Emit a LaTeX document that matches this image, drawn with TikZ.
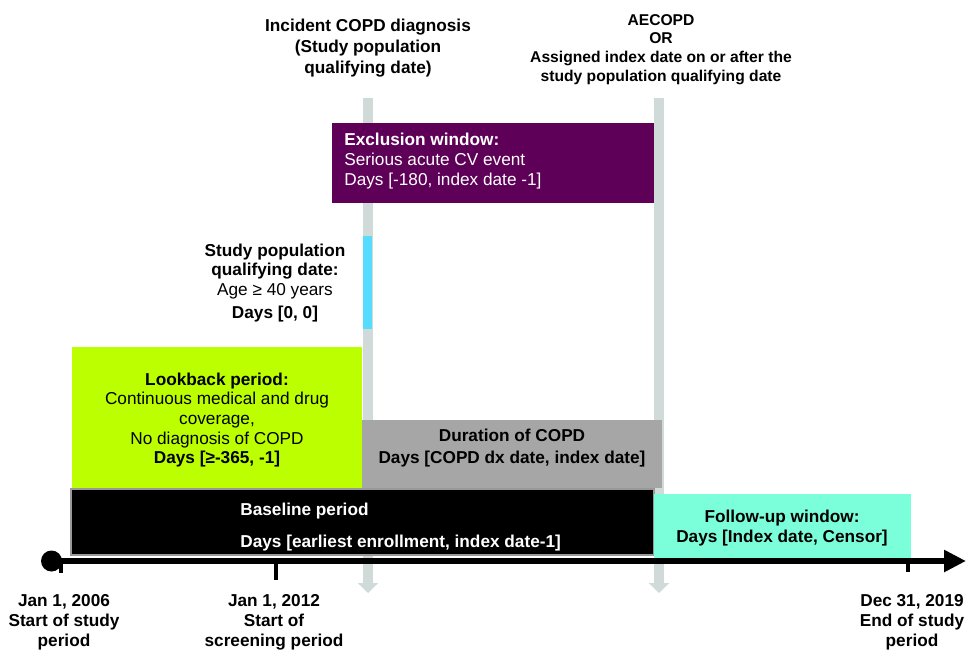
\documentclass[tikz,border=0pt]{standalone}
\usepackage{fontspec}
\setmainfont{Liberation Sans}
\usetikzlibrary{arrows.meta}
\usetikzlibrary{positioning}

\definecolor{exclpurple}{HTML}{5E0057}
\definecolor{bargrey}{HTML}{D0DAD8}
\definecolor{qualblue}{HTML}{55DCFF}
\definecolor{lookgreen}{HTML}{BBFF00}
\definecolor{durgrey}{HTML}{A6A6A6}
\definecolor{followaqua}{HTML}{7BFFDA}

\tikzset{
  lbl/.style={font=\fontsize{9.8}{11.2}\selectfont, align=center, inner sep=0pt},
  toplbl/.style={lbl, font=\fontsize{9.8}{12}\selectfont\bfseries},
  datelbl/.style={lbl, font=\fontsize{9.8}{11.4}\selectfont\bfseries},
  datebar/.style={bargrey, line width=0.2cm, -{Triangle[length=0.2cm, width=0.4cm]}},
  timeline/.style={black, line width=0.12cm, -{Triangle[length=0.44cm, width=0.42cm]}},
  tickmark/.style={black, line width=0.08cm}
}

\begin{document}
\begin{tikzpicture}[x=0.02cm, y=-0.02cm]
\useasboundingbox (0,0) rectangle (966,650);

% grey bars at the two reference dates
\coordinate (DxTop) at (368,98);
\coordinate (DxEnd) at (368,593);
\coordinate (IdxTop) at (659,98);
\coordinate (IdxEnd) at (659,593);
\draw[datebar] (DxTop) -- (DxEnd);
\draw[datebar] (IdxTop) -- (IdxEnd);

\node[toplbl] (DxLbl) at (368,48) {Incident COPD diagnosis\\(Study population\\qualifying date)};
\node[toplbl, font=\fontsize{8.9}{10.6}\selectfont\bfseries] (IdxLbl) at (661,49.5)
  {AECOPD\\OR\\Assigned index date on or after the\\study population qualifying date};

% windows
\fill[exclpurple] (332,123) rectangle (654,203);
\node[lbl, anchor=west, align=left, text=white] (ExclText) at (344,161)
  {\textbf{Exclusion window:}\\Serious acute CV event\\Days [-180, index date -1]};

\fill[qualblue] (363,236) rectangle (372,329);
\node[lbl] (QualText) at (275,283)
  {\textbf{Study population}\\\textbf{qualifying date:}\\Age ≥ 40 years\\[2pt]\textbf{Days [0, 0]}};

\fill[lookgreen] (72,347) rectangle (362,488);
\node[lbl] (LookText) at (217,420)
  {\textbf{Lookback period:}\\Continuous medical and drug\\coverage,\\No diagnosis of COPD\\\textbf{Days [≥-365, -1]}};

\fill[durgrey] (362,420) rectangle (662,488);
\node[lbl, font=\fontsize{9.8}{12.4}\selectfont\bfseries] (DurText) at (512,448)
  {Duration of COPD\\Days [COPD dx date, index date]};

\filldraw[fill=black, draw=gray!80, line width=0.03cm] (71,489) rectangle (654,555);
\node[lbl, anchor=west, align=left, text=white, font=\fontsize{9.8}{11.2}\selectfont\bfseries] (BaseText) at (240,527)
  {Baseline period\\[6.6pt]Days [earliest enrollment, index date-1]};

\fill[followaqua] (654,494) rectangle (911,558);
\node[lbl, font=\fontsize{9.8}{11.4}\selectfont\bfseries] (FollowText) at (782,528)
  {Follow-up window:\\Days [Index date, Censor]};

% time line
\coordinate (Start) at (51.5,561);
\coordinate (End) at (966,561);
\fill (Start) circle [radius=0.21cm];
\draw[timeline] (Start) -- (End);

\coordinate (T2006) at (61,561);
\coordinate (T2012) at (276,561);
\coordinate (T2019) at (907.5,561);
\draw[tickmark] (T2006) -- ++(0,12);
\draw[tickmark] (T2012) -- ++(0,19);
\draw[tickmark] (T2019) -- ++(0,11);

\node[datelbl] (L2006) at (64,622) {Jan 1, 2006\\Start of study\\period};
\node[datelbl] (L2012) at (274,622) {Jan 1, 2012\\Start of\\screening period};
\node[datelbl] (L2019) at (912,622) {Dec 31, 2019\\End of study\\period};

\end{tikzpicture}
\end{document}
